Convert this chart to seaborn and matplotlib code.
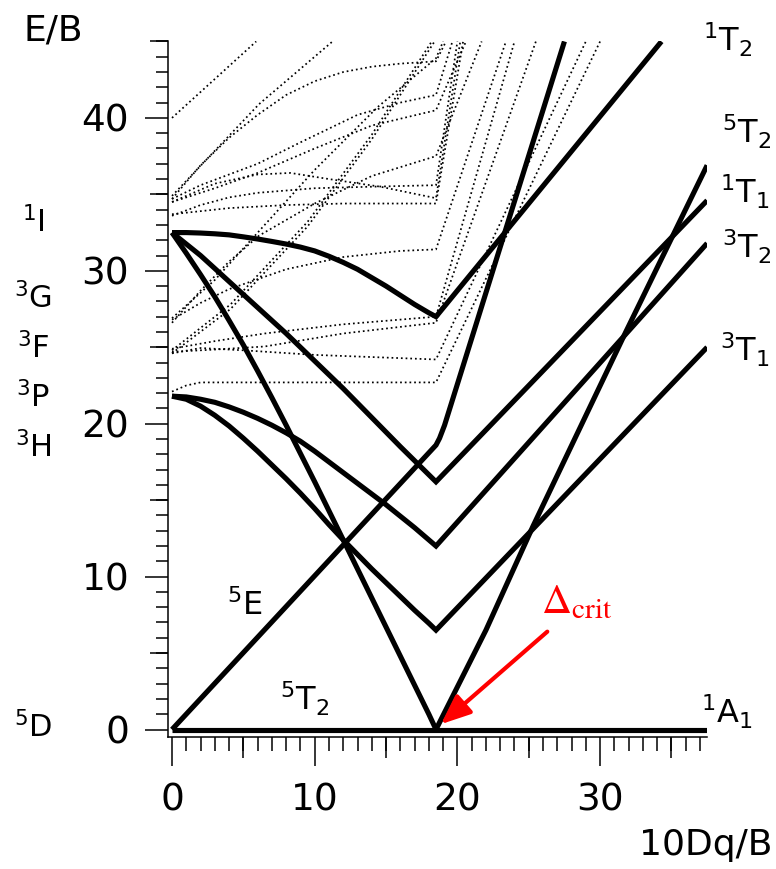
import numpy as np
import pandas as pd
import matplotlib
matplotlib.use("Agg")
import matplotlib.pyplot as plt
import seaborn as sns
from matplotlib.ticker import MultipleLocator

sns.set_theme(style="ticks")
plt.rcParams["font.family"] = ["DejaVu Sans"]
plt.rcParams["mathtext.fontset"] = "dejavusans"

W, H = 776, 869

# ---------------- solid terms (E/B vs 10Dq/B) ----------------
# ground line (5T2 left of crit, 1A1 right of crit)
ground_x = [0, 37.5]
ground_y = [0, 0]
# 1A1 (from 1I) down to the crossover
a1_x = [0, 1, 2, 3, 4, 5, 6, 7, 8, 9, 10, 11, 12, 13, 14, 15, 16, 17, 18, 18.5]
a1_y = [32.5, 31.15, 29.75, 28.3, 26.75, 25.15, 23.45, 21.7, 19.9, 18.05, 16.2, 14.3,
        12.4, 10.5, 8.6, 6.7, 4.8, 2.9, 1.0, 0]
# 5T2 above the crossover
t2q_x = [18.5, 22, 25.3, 31.8, 37.5]
t2q_y = [0, 6.5, 13.3, 26.0, 36.9]
# 5E
eq_x = [0, 18.5, 18.75, 19.1, 27.5]
eq_y = [0, 18.6, 19.05, 19.9, 45.0]
# 1T1
t1s_x = [0, 2, 4, 6, 8, 10, 12, 14, 16, 18.5, 37.5]
t1s_y = [32.5, 31.0, 29.3, 27.6, 25.9, 24.1, 22.3, 20.4, 18.5, 16.2, 34.6]
# 1T2
t2s_x = [0, 1, 2, 3, 4, 5, 6, 7, 8, 9, 10, 11, 12, 13, 14, 15, 16, 17, 18, 18.5, 34.3]
t2s_y = [32.5, 32.5, 32.47, 32.42, 32.35, 32.22, 32.08, 31.92, 31.75, 31.55, 31.3,
         30.95, 30.55, 30.1, 29.55, 29.0, 28.4, 27.8, 27.25, 27.0, 45.0]
# 3T2
t2t_x = [0, 1, 2, 3, 4, 5, 6, 7, 8, 9, 10, 11, 12, 13, 14, 15, 16, 17, 18, 18.5, 37.5]
t2t_y = [21.8, 21.75, 21.6, 21.4, 21.1, 20.75, 20.35, 19.9, 19.4, 18.85, 18.2, 17.5,
         16.8, 16.1, 15.4, 14.7, 13.95, 13.2, 12.4, 12.0, 31.8]
# 3T1
t1t_x = [0, 1, 2, 3, 4, 5, 6, 7, 8, 9, 10, 11, 12, 13, 14, 15, 16, 17, 18, 18.5, 37.5]
t1t_y = [21.8, 21.6, 21.15, 20.55, 19.85, 19.05, 18.2, 17.3, 16.4, 15.45, 14.45, 13.4,
         12.4, 11.45, 10.5, 9.6, 8.7, 7.8, 6.95, 6.5, 25.0]

# ---------------- dotted (other) terms ----------------
dA_x = [0, 5.9];                                   dA_y = [40.0, 45.0]
dB_x = [0, 6.1, 11.25];                            dB_y = [34.9, 40.9, 45.0]
dC_x = [0, 2, 4, 6, 8, 10, 12, 14, 16, 18.5, 19.2]
dC_y = [34.7, 36.9, 38.7, 40.2, 41.5, 42.4, 43.0, 43.35, 43.55, 43.7, 45.0]
dD_x = [0, 2, 4, 6, 9, 13, 16, 18.5, 19.65]
dD_y = [34.7, 35.6, 36.3, 37.0, 38.4, 40.2, 41.0, 41.5, 45.0]
dE_x = [0, 3, 6, 10, 14, 18.5, 20.6]
dE_y = [34.5, 35.4, 36.4, 38.0, 39.5, 40.5, 45.0]
dF_x = [0, 2, 4, 6, 10, 14, 18.5, 20.0]
dF_y = [33.6, 34.3, 34.8, 35.1, 35.4, 35.5, 35.6, 45.0]
dG_x = [0, 3, 6, 8.3, 11, 14.6, 18.5, 20.2]
dG_y = [34.5, 35.7, 36.3, 36.4, 36.0, 35.5, 34.75, 45.0]
dH_x = [0, 4, 8, 12, 18.5, 20.4]
dH_y = [33.7, 34.1, 34.3, 34.4, 34.4, 45.0]
dI_x = [0, 2, 4, 6.1, 10, 14, 18.5, 21.7]
dI_y = [26.6, 28.7, 30.6, 32.3, 34.4, 36.2, 37.5, 45.0]
dJ_x = [0, 3, 6.2, 10, 14.4, 18.5, 19.0]
dJ_y = [26.9, 29.4, 32.7, 36.6, 40.7, 43.9, 45.0]
dK_x = [0, 4.1, 9.5, 14, 18.4];                    dK_y = [24.6, 27.5, 32.9, 38.6, 45.0]
dL_x = [0, 4.1, 9.5, 14, 18.2];                    dL_y = [24.8, 27.8, 33.2, 38.9, 45.0]
dM_x = [0, 2, 4, 8, 12, 16, 18.5, 23.4]
dM_y = [26.8, 27.9, 28.8, 30.1, 30.9, 31.3, 31.4, 45.0]
dN_x = [0, 3, 6.5, 12, 18.5, 24.0];                dN_y = [24.9, 25.4, 25.9, 26.5, 27.0, 45.0]
dO_x = [0, 3, 6.5, 12, 18.5, 25.5];                dO_y = [24.7, 24.85, 25.05, 25.9, 26.6, 45.0]
dP_x = [0, 2, 5, 10, 18.5, 29.0];                  dP_y = [24.6, 24.95, 24.8, 24.5, 24.2, 45.0]
dQ_x = [0, 1, 2, 18.5, 30.0];                      dQ_y = [22.1, 22.5, 22.7, 22.7, 45.0]

solid = [(ground_x, ground_y), (a1_x, a1_y), (t2q_x, t2q_y), (eq_x, eq_y),
         (t1s_x, t1s_y), (t2s_x, t2s_y), (t2t_x, t2t_y), (t1t_x, t1t_y)]
dotted = [(dA_x, dA_y), (dB_x, dB_y), (dC_x, dC_y), (dD_x, dD_y), (dE_x, dE_y),
          (dF_x, dF_y), (dG_x, dG_y), (dH_x, dH_y), (dI_x, dI_y), (dJ_x, dJ_y),
          (dK_x, dK_y), (dL_x, dL_y), (dM_x, dM_y), (dN_x, dN_y), (dO_x, dO_y),
          (dP_x, dP_y), (dQ_x, dQ_y)]

# labels
x_ticks = [0, 10, 20, 30]
y_ticks = [0, 10, 20, 30, 40]
free_ion = ["${}^{1}$I", "${}^{3}$G", "${}^{3}$F", "${}^{3}$P", "${}^{3}$H", "${}^{5}$D"]
right_terms = ["${}^{1}$T$_{2}$", "${}^{5}$T$_{2}$", "${}^{1}$T$_{1}$",
               "${}^{3}$T$_{2}$", "${}^{3}$T$_{1}$", "${}^{1}$A$_{1}$"]

# ---------------- figure ----------------
fig = plt.figure(figsize=(W / 100, H / 100), dpi=100)
x0px, x_per = 172.0, 14.27
y0px, y_per = 729.5, 15.29
xmin = -(x0px - 167.5) / x_per
ymin = -(737 - y0px) / y_per
xmax, ymax = 37.5, 45.0
left = 167.5 / W
bottom = (H - 737) / H
width = (xmax - xmin) * x_per / W
height = (ymax - ymin) * y_per / H
ax = fig.add_axes([left, bottom, width, height])
ax.set_facecolor("white")

for xs, ys in dotted:
    sns.lineplot(x=xs, y=ys, ax=ax, color="black", lw=1.25, linestyle=(0, (1, 1.7)),
                 estimator=None, sort=False, legend=False)
for xs, ys in solid:
    sns.lineplot(x=xs, y=ys, ax=ax, color="black", lw=3.7, estimator=None, sort=False,
                 legend=False, solid_joinstyle="miter", solid_capstyle="butt")

ax.set_xlim(xmin, xmax)
ax.set_ylim(ymin, ymax)
ax.set_xlabel("")
ax.set_ylabel("")
sns.despine(ax=ax)
for s in ["left", "bottom"]:
    ax.spines[s].set_color("black")
    ax.spines[s].set_linewidth(1.1)

ax.set_xticks(x_ticks)
ax.set_yticks(y_ticks)
ax.xaxis.set_minor_locator(MultipleLocator(1))
ax.yaxis.set_minor_locator(MultipleLocator(1))
ax.tick_params(axis="x", which="major", length=21, width=1.1, labelsize=27, pad=12,
               colors="black", direction="out")
ax.tick_params(axis="x", which="minor", length=10, width=1.1, colors="black", direction="out")
ax.tick_params(axis="y", which="major", length=16.5, width=1.1, labelsize=27, pad=11,
               colors="black", direction="out")
ax.tick_params(axis="y", which="minor", length=8.5, width=1.1, colors="black", direction="out")
ax.grid(False)

secx = ax.secondary_xaxis("bottom")
secx.set_xticks([5, 15, 25, 35])
secx.tick_params(length=15, width=1.1, labelbottom=False, colors="black")
secx.spines["bottom"].set_visible(False)
secy = ax.secondary_yaxis("left")
secy.set_yticks([5, 15, 25, 35, 45])
secy.tick_params(length=13, width=1.1, labelleft=False, colors="black")
secy.spines["left"].set_visible(False)


def ftext(px, py, s, size, **kw):
    fig.text(px / W, 1 - py / H, s, fontsize=size, ha=kw.pop("ha", "center"),
             va=kw.pop("va", "center"), color=kw.pop("color", "black"), **kw)


# axis titles
ftext(53, 31, "E/B", 26)
ftext(772, 845, "10Dq/B", 26, ha="right")

# free-ion terms (left)
for s, py in zip(free_ion, [222, 298, 348, 397, 447, 727]):
    ftext(33, py, s, 22)

# strong-field terms (right)
for s, (px, py) in zip(right_terms, [(728, 40), (747, 132), (745, 192), (747, 247),
                                     (745, 350), (727, 712)]):
    ftext(px, py, s, 23)

# inside labels
ax.text(5.1, 8.1, "${}^{5}$E", fontsize=23, ha="center", va="center", color="black")
ax.text(9.3, 2.0, "${}^{5}$T$_{2}$", fontsize=23, ha="center", va="center", color="black")

# critical field marker
ax.text(28.4, 8.4, r"$\Delta_{\mathrm{crit}}$", fontsize=30, color="red",
        ha="center", va="center", math_fontfamily="stix")
ax.annotate("", xy=(18.85, 0.35), xytext=(26.3, 6.4),
            arrowprops=dict(arrowstyle="-|>,head_length=1.2,head_width=0.5",
                            mutation_scale=15, color="red", lw=3.0,
                            shrinkA=0, shrinkB=0))

fig.savefig("out.png", dpi=100, facecolor="white")
